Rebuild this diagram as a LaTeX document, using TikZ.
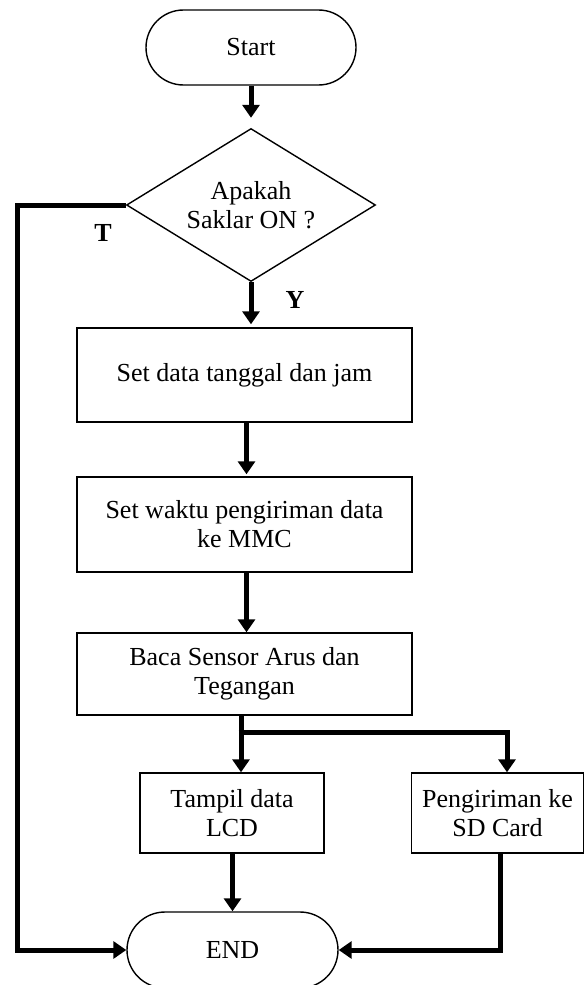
\documentclass[tikz,border=0pt]{standalone}
\usepackage{fontspec}
\setmainfont{Liberation Serif}
\usetikzlibrary{shapes.geometric,shapes.misc,arrows.meta}
\begin{document}
\begin{tikzpicture}[x=1pt,y=-1pt,
  txt/.style={font=\fontsize{26}{29}\selectfont,align=center},
  term/.style={txt,draw,rounded rectangle,line width=1.4pt,inner sep=0pt},
  proc/.style={txt,draw,rectangle,line width=1.4pt,inner sep=0pt},
  decide/.style={txt,draw,diamond,aspect=1.6,line width=1.4pt,inner sep=0pt,minimum width=249pt,minimum height=153pt},
  flow/.style={line width=5pt,line join=miter},
  flowarr/.style={flow,-{Triangle[width=17pt,length=13pt]}},
  lab/.style={font=\fontsize{26}{29}\selectfont\bfseries}]
\useasboundingbox (0,0) rectangle (585,985);
\node[term,minimum width=210pt,minimum height=75pt] (s) at (251,47.5) {Start};
\node[decide] (d) at (251,205) {Apakah\\Saklar ON ?};
\node[proc,minimum width=335pt,minimum height=94pt] (b1) at (244.5,375) {Set data tanggal dan jam};
\node[proc,minimum width=335pt,minimum height=95pt] (b2) at (244.5,524.5) {Set waktu pengiriman data\\ke MMC};
\node[proc,minimum width=335pt,minimum height=82pt] (b3) at (244.5,674) {Baca Sensor Arus dan\\Tegangan};
\node[proc,minimum width=184pt,minimum height=80pt] (b4) at (232,813) {Tampil data\\LCD};
\node[proc,minimum width=172pt,minimum height=80pt] (b5) at (497.5,813) {Pengiriman ke\\SD Card};
\node[term,minimum width=211pt,minimum height=76pt] (e) at (232.5,950) {END};
\node[lab] (t) at (103,233) {T};
\node[lab] (y) at (295,300) {Y};
\draw[flowarr,shorten >=10pt] (s.south) -- (s.south |- d.north);
\draw[flowarr,shorten >=3pt] (d.south) -- (d.south |- b1.north);
\draw[flowarr,shorten >=2pt] ([xshift=2pt]b1.south) -- ([xshift=2pt]b2.north);
\draw[flowarr] ([xshift=2pt]b2.south) -- ([xshift=2pt]b3.north);
\coordinate (br) at (241,732);
\coordinate (br2) at (507,732);
\draw[flow] (b3.south -| br) -- (br);
\draw[flowarr] (br) -- (br |- b4.north);
\draw[flowarr] ([xshift=-2.5pt]br) -- (br2) -- (br2 |- b5.north);
\draw[flowarr] (b4.south -| e.north) -- (e.north);
\coordinate (lc) at (17.5,205);
\draw[flowarr] (d.west) -- (lc) -- (lc |- e.west) -- (e.west);
\coordinate (rc) at (500,950);
\draw[flowarr] (rc |- b5.south) -- (rc) -- (e.east);
\end{tikzpicture}
\end{document}
